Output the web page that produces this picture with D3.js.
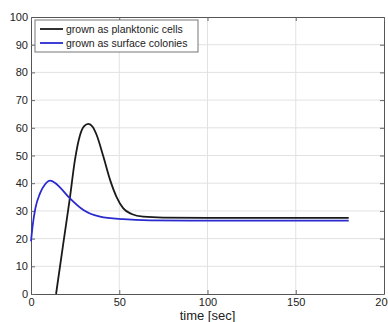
<!DOCTYPE html>
<html>
<head>
<meta charset="utf-8">
<script src="https://cdn.jsdelivr.net/npm/d3@7"></script>
<style>
  body { margin: 0; background: #fff; }
  text { font-family: "Liberation Sans", Arial, sans-serif; }
</style>
</head>
<body>
<svg id="chart" width="388" height="322"></svg>
<script>
// values
var plankTime  = [14.2, 18.3, 22.1, 24.9, 27.8, 30, 32.5, 35, 37.2, 41, 44.8, 48.5, 52.3, 57, 63.6, 75, 100, 180]
var plankValue = [0, 18.3, 35, 48.4, 57.4, 60.5, 61.4, 60.3, 57.4, 49.6, 41.2, 35, 30.9, 28.9, 27.9, 27.6, 27.5, 27.5]
var surfTime   = [0, 1, 2.5, 5.1, 8, 10.8, 13.5, 16.4, 22.1, 29.7, 39.1, 52.3, 67.4, 90, 180]
var surfValue  = [19, 25, 31, 36.3, 39.6, 40.9, 40.2, 38.5, 34.5, 30.3, 27.9, 27, 26.6, 26.5, 26.5]
var xTicks = [0, 50, 100, 150, 200]
var yTicks = [0, 10, 20, 30, 40, 50, 60, 70, 80, 90, 100]
var seriesNames = ["grown as planktonic cells", "grown as surface colonies"]
var seriesColors = ["#1a1a1a", "#2a2ad0"]

var svg = d3.select("#chart")
var plotLeft = 31, plotRight = 384, plotTop = 17, plotBottom = 294

var x = d3.scaleLinear().domain([0, 200]).range([plotLeft, plotRight])
var y = d3.scaleLinear().domain([0, 100]).range([plotBottom, plotTop])

// grid
svg.append("g").selectAll("line")
    .data(xTicks.slice(1, -1)).enter()
    .append("line")
    .attr("x1", function (d) { return x(d) }).attr("x2", function (d) { return x(d) })
    .attr("y1", plotTop).attr("y2", plotBottom)
    .attr("stroke", "#e2e2e2").attr("stroke-width", 1)
svg.append("g").selectAll("line")
    .data(yTicks.slice(1, -1)).enter()
    .append("line")
    .attr("y1", function (d) { return y(d) }).attr("y2", function (d) { return y(d) })
    .attr("x1", plotLeft).attr("x2", plotRight)
    .attr("stroke", "#e2e2e2").attr("stroke-width", 1)

// axes (ticks pointing inward, matlab style)
svg.append("g")
    .attr("transform", "translate(0," + plotBottom + ")")
    .call(d3.axisBottom(x).tickValues(xTicks).tickSize(-4).tickPadding(4).tickSizeOuter(0))
svg.append("g")
    .attr("transform", "translate(" + plotLeft + ",0)")
    .call(d3.axisLeft(y).tickValues(yTicks).tickSize(-4).tickPadding(3).tickSizeOuter(0))
svg.append("g")
    .attr("transform", "translate(" + plotRight + ",0)")
    .call(d3.axisRight(y).tickValues(yTicks).tickSize(-4).tickFormat("").tickSizeOuter(0))
svg.append("g")
    .attr("transform", "translate(0," + plotTop + ")")
    .call(d3.axisTop(x).tickValues(xTicks).tickSize(-4).tickFormat("").tickSizeOuter(0))

svg.selectAll(".domain").attr("stroke", "#555")
svg.selectAll(".tick line").attr("stroke", "#666")
svg.selectAll(".tick text")
    .attr("fill", "#222")
    .style("font-size", "11px")

// curves
var line = d3.line()
    .x(function (d) { return x(d[0]) })
    .y(function (d) { return y(d[1]) })
    .curve(d3.curveMonotoneX)

var series = [d3.zip(plankTime, plankValue), d3.zip(surfTime, surfValue)]
svg.selectAll("path.series")
    .data(series).enter()
    .append("path")
    .attr("class", "series")
    .attr("d", line)
    .attr("fill", "none")
    .attr("stroke", function (d, i) { return seriesColors[i] })
    .attr("stroke-width", 1.8)

// x label
svg.append("text")
    .attr("x", x(100)).attr("y", 320)
    .attr("text-anchor", "middle")
    .style("font-size", "13px")
    .attr("fill", "#222")
    .text("time [sec]")

// legend
var legend = svg.append("g").attr("transform", "translate(35,20)")
legend.append("rect")
    .attr("width", 163).attr("height", 32)
    .attr("fill", "#fff").attr("stroke", "#777")
var items = legend.selectAll("g.item")
    .data(seriesNames).enter()
    .append("g")
    .attr("transform", function (d, i) { return "translate(0," + (9 + i * 14) + ")" })
items.append("line")
    .attr("x1", 5).attr("x2", 28)
    .attr("stroke", function (d, i) { return seriesColors[i] })
    .attr("stroke-width", 1.8)
items.append("text")
    .attr("x", 31).attr("dy", "0.35em")
    .style("font-size", "10.5px")
    .attr("fill", "#222")
    .text(function (d) { return d })
</script>
</body>
</html>
